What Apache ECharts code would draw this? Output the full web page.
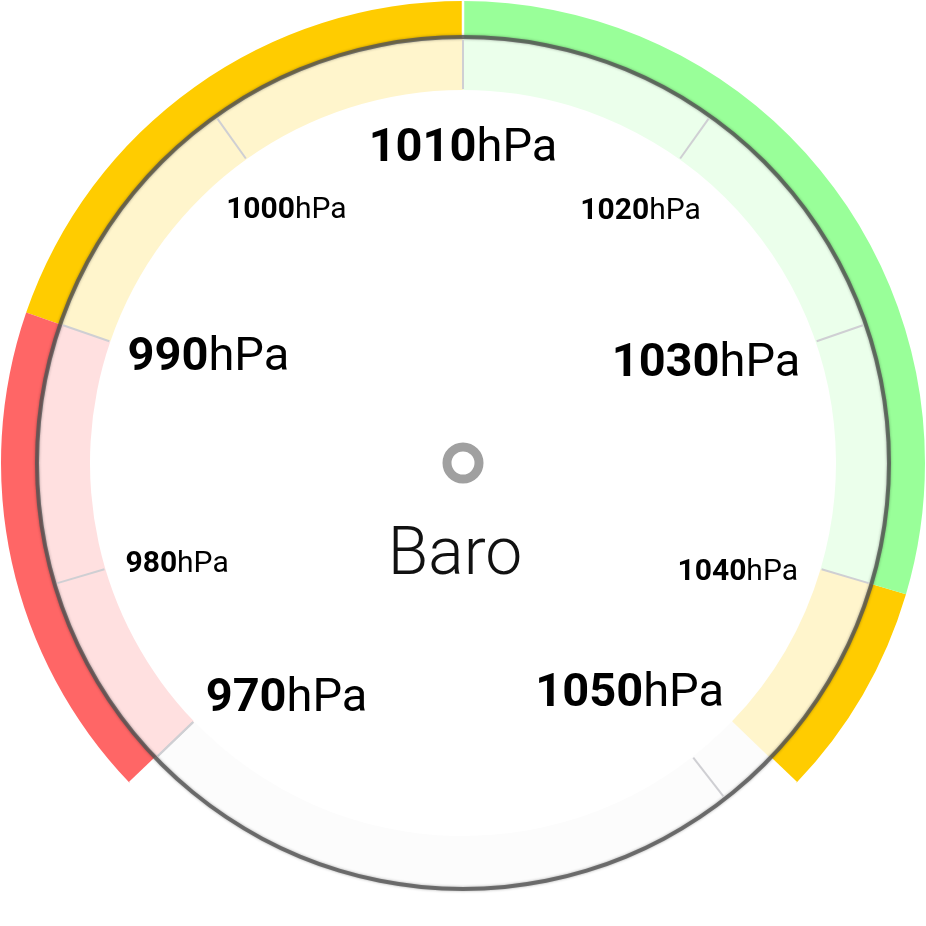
<!DOCTYPE html>
<html>
<head>
<meta charset="utf-8">
<script src="https://cdn.jsdelivr.net/npm/echarts@6/dist/echarts.min.js"></script>
<style>
html,body{margin:0;padding:0;background:#fff;}
#chart{width:926px;height:926px;}
</style>
</head>
<body>
<div id="chart"></div>
<script>
// ---- data ----
const TITLE = 'Baro';
const UNIT = 'hPa';
const PRESSURE_TICKS = [980, 990, 1000, 1010, 1020, 1030, 1040, 1050];
const LABEL_PAIRS = [[970, 1050], [980, 1040], [990, 1030], [1000, 1020]];
const LABEL_TOP = [1000, 1010, 1020];
const SHOWN_TOP = [1010];
const BIG_LABELS = [970, 990, 1010, 1030, 1050];
const BAND_RANGE = [972.3, 1047.7];
const ZONE_LIMITS = [990, 1010, 1040, 1047.7];
const ZONE_COLORS = ['#ff6666', '#ffcc00', '#99ff99', '#ffcc00'];
const ZONE_TINTS = ['#ffe0e0', '#fff5cc', '#ebffeb', '#fff5cc'];
const REST_TINT = '#fcfcfc';

// ---- layout (positions only) ----
const DEG_PER_HPA = 3.55;
const angleOf = v => 90 - (v - 1010) * DEG_PER_HPA;
const PAIR_ANGLES = [[222.5, -41.6], [196.7, -18.1], [162.6, 16.3], [133.2, 46.6]];
const PAIR_RADII = [349, 352.4, 351.5, 346];
const TOP_RADIUS = 337;
const FONT = 'Roboto, "Liberation Sans", sans-serif';

const fullMax = BAND_RANGE[0] + 360 / DEG_PER_HPA;
const bandStops = ZONE_LIMITS.map((v, i) => [(v - BAND_RANGE[0]) / (BAND_RANGE[1] - BAND_RANGE[0]), ZONE_COLORS[i]]);
bandStops[bandStops.length - 1][0] = 1;
const tintStops = ZONE_LIMITS.map((v, i) => [(v - BAND_RANGE[0]) / (fullMax - BAND_RANGE[0]), ZONE_TINTS[i]]);
tintStops.push([1, REST_TINT]);

const hidden = {
  pointer: { show: false }, progress: { show: false }, detail: { show: false },
  title: { show: false }, axisTick: { show: false }
};

function labelFmt(list) {
  return v => {
    v = Math.round(v);
    if (list.indexOf(v) < 0) return '';
    return BIG_LABELS.indexOf(v) >= 0 ? '{b|' + v + '}{bu|' + UNIT + '}' : '{s|' + v + '}{su|' + UNIT + '}';
  };
}
const rich = {
  b: { fontSize: 47, fontWeight: 'bold', fontFamily: FONT, color: '#000' },
  bu: { fontSize: 47, fontWeight: 'normal', fontFamily: FONT, color: '#000' },
  s: { fontSize: 30, fontWeight: 'bold', fontFamily: FONT, color: '#000' },
  su: { fontSize: 30, fontWeight: 'normal', fontFamily: FONT, color: '#000' }
};
function labelGauge(range, shown, startAngle, endAngle, labelRadius) {
  const r = 426;
  return Object.assign({
    type: 'gauge', radius: r, center: ['50%', '50%'],
    min: range[0], max: range[range.length - 1],
    splitNumber: (range[range.length - 1] - range[0]) / 10,
    startAngle: startAngle, endAngle: endAngle,
    axisLine: { show: false, lineStyle: { width: 0 } },
    splitLine: { show: false, length: 0, distance: 0 },
    axisLabel: { show: true, distance: r - labelRadius, formatter: labelFmt(shown), rich: rich },
    data: []
  }, hidden);
}

const series = [
  // pale inner ring (full circle)
  Object.assign({
    type: 'gauge', radius: 426, center: ['50%', '50%'],
    min: BAND_RANGE[0], max: fullMax, splitNumber: 1,
    startAngle: angleOf(BAND_RANGE[0]), endAngle: angleOf(BAND_RANGE[0]) - 360,
    axisLine: { show: true, lineStyle: { width: 53, color: tintStops } },
    splitLine: { show: true, length: 49, distance: -50, lineStyle: { color: '#cfcfd3', width: 2 } },
    axisLabel: { show: false }, data: []
  }, hidden),
  // outer coloured band
  Object.assign({
    type: 'gauge', radius: 462, center: ['50%', '50%'],
    min: BAND_RANGE[0], max: BAND_RANGE[1], splitNumber: 2,
    startAngle: angleOf(BAND_RANGE[0]), endAngle: angleOf(BAND_RANGE[1]),
    axisLine: { show: true, lineStyle: { width: 37, color: bandStops } },
    splitLine: { show: true, length: 37, distance: -37, lineStyle: { color: '#ffffff', width: 2.5 } },
    axisLabel: { show: false }, data: []
  }, hidden),
  // grey rim
  Object.assign({
    type: 'gauge', radius: 428, center: ['50%', '50%'],
    min: 0, max: 1, startAngle: 90, endAngle: -270,
    axisLine: { show: true, lineStyle: { width: 4, color: [[1, 'rgba(85,85,85,0.8)']], shadowBlur: 3, shadowColor: 'rgba(0,0,0,0.4)' } },
    splitLine: { show: false }, axisLabel: { show: false }, data: []
  }, hidden),
  // scale ticks + title + hub
  {
    type: 'gauge', radius: 425, center: ['50%', '50%'],
    min: PRESSURE_TICKS[0], max: PRESSURE_TICKS[PRESSURE_TICKS.length - 1],
    splitNumber: PRESSURE_TICKS.length - 1,
    startAngle: angleOf(PRESSURE_TICKS[0]), endAngle: angleOf(PRESSURE_TICKS[PRESSURE_TICKS.length - 1]),
    axisLine: { show: false, lineStyle: { width: 0 } },
    splitLine: { show: true, length: 49, distance: 2, lineStyle: { color: '#cfcfd3', width: 2 } },
    axisTick: { show: false },
    axisLabel: { show: false },
    pointer: { show: false }, progress: { show: false },
    anchor: { show: true, showAbove: true, size: 32, itemStyle: { color: '#ffffff', borderColor: '#a0a0a0', borderWidth: 9 } },
    title: { show: true, offsetCenter: [-8, 94], fontSize: 66, fontWeight: 300, fontFamily: FONT, color: '#111' },
    detail: { show: false },
    data: [{ value: null, name: TITLE }]
  }
];
LABEL_PAIRS.forEach((pair, i) => {
  series.push(labelGauge(pair, pair, PAIR_ANGLES[i][0], PAIR_ANGLES[i][1], PAIR_RADII[i]));
});
series.push(labelGauge(LABEL_TOP, SHOWN_TOP, 100, 80, TOP_RADIUS));

const chart = echarts.init(document.getElementById('chart'), null, { renderer: 'canvas' });
chart.setOption({ animation: false, backgroundColor: '#ffffff', series: series });
</script>
</body>
</html>
